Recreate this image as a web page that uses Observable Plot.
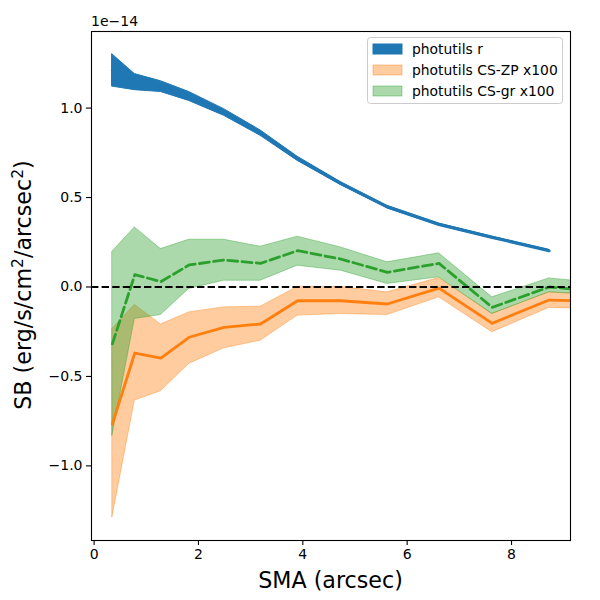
<!DOCTYPE html>
<html><head><meta charset="utf-8">
<script src="https://cdn.jsdelivr.net/npm/d3@7"></script>
<script src="https://cdn.jsdelivr.net/npm/@observablehq/plot@0.6"></script>
<style>body{margin:0;background:#fff}#chart{width:600px;height:600px}</style>
</head><body><div id="chart"></div>
<script>
// values in units of 1e-14 erg/s/cm^2/arcsec^2
const smaR   = [0.35, 0.78, 1.28, 1.82, 2.49, 3.19, 3.90, 4.73, 5.62, 6.61, 7.63, 8.72];
const rLo    = [1.12, 1.10, 1.09, 1.04, 0.957, 0.845, 0.705, 0.570, 0.440, 0.343, 0.272, 0.198];
const rMid   = [1.21, 1.145, 1.12, 1.065, 0.975, 0.860, 0.715, 0.578, 0.447, 0.349, 0.277, 0.203];
const rHi    = [1.30, 1.19, 1.15, 1.09, 0.994, 0.875, 0.728, 0.586, 0.454, 0.355, 0.282, 0.208];

const smaCS  = [0.35, 0.78, 1.28, 1.82, 2.49, 3.19, 3.90, 4.73, 5.62, 6.61, 7.63, 8.72, 9.90];
const zpLo   = [-1.287, -0.635, -0.583, -0.430, -0.343, -0.300, -0.160, -0.151, -0.157, -0.058, -0.253, -0.117, -0.125];
const zpMid  = [-0.766, -0.369, -0.397, -0.281, -0.226, -0.207, -0.077, -0.077, -0.095, -0.006, -0.203, -0.073, -0.082];
const zpHi   = [-0.235, -0.100, -0.210, -0.142, -0.114, -0.110, 0.000, 0.000, -0.030, 0.050, -0.150, -0.030, -0.045];
const grLo   = [-0.831, -0.179, -0.157, -0.011, 0.035, 0.035, 0.119, 0.091, 0.017, 0.054, -0.151, -0.030, -0.050];
const grMid  = [-0.318, 0.069, 0.030, 0.123, 0.151, 0.132, 0.203, 0.156, 0.082, 0.132, -0.114, 0.000, -0.030];
const grHi   = [0.197, 0.333, 0.212, 0.264, 0.264, 0.225, 0.281, 0.221, 0.138, 0.188, -0.058, 0.048, 0.015];

const xTicks = [0, 2, 4, 6, 8];
const yTicks = [-1.0, -0.5, 0.0, 0.5, 1.0];
const legendLabels = ["photutils r", "photutils CS-ZP x100", "photutils CS-gr x100"];
const colors = ["#1f77b4", "#ff7f0e", "#2ca02c"];

const rData = smaR.map((x, i) => ({x, lo: rLo[i], mid: rMid[i], hi: rHi[i]}));
const zpData = smaCS.map((x, i) => ({x, lo: zpLo[i], mid: zpMid[i], hi: zpHi[i]}));
const grData = smaCS.map((x, i) => ({x, lo: grLo[i], mid: grMid[i], hi: grHi[i]}));

const fmt = d3.format(".1f");

const plot = Plot.plot({
  width: 600, height: 600,
  marginLeft: 91, marginRight: 30, marginTop: 31, marginBottom: 60,
  style: {fontFamily: "DejaVu Sans", fontSize: "14px", background: "white", color: "black"},
  x: {domain: [-0.05, 9.13]},
  y: {domain: [-1.417, 1.428]},
  marks: [
    Plot.areaY(rData, {x: "x", y1: "lo", y2: "hi", fill: colors[0], stroke: colors[0], strokeWidth: 1, clip: true}),
    Plot.lineY(rData, {x: "x", y: "mid", stroke: colors[0], strokeWidth: 3, clip: true}),
    Plot.areaY(zpData, {x: "x", y1: "lo", y2: "hi", fill: colors[1], fillOpacity: 0.4, stroke: colors[1], strokeOpacity: 0.4, strokeWidth: 1, clip: true}),
    Plot.areaY(grData, {x: "x", y1: "lo", y2: "hi", fill: colors[2], fillOpacity: 0.4, stroke: colors[2], strokeOpacity: 0.4, strokeWidth: 1, clip: true}),
    Plot.lineY(zpData, {x: "x", y: "mid", stroke: colors[1], strokeWidth: 2.8, clip: true}),
    Plot.lineY(grData, {x: "x", y: "mid", stroke: colors[2], strokeWidth: 2.8, strokeDasharray: "10,4.3", clip: true}),
    Plot.ruleY([0], {stroke: "black", strokeWidth: 2, strokeDasharray: "7.4,3.2"}),
    Plot.frame({stroke: "black", strokeWidth: 1.1}),
    Plot.axisX({ticks: xTicks, tickFormat: d => String(d), tickSize: 5, tickPadding: 4, label: null, fontSize: 14}),
    Plot.axisY({ticks: yTicks, tickFormat: d => fmt(d), tickSize: 5, tickPadding: 4, label: null, fontSize: 14})
  ]
});
document.getElementById("chart").appendChild(plot);

const svg = d3.select(plot);
svg.selectAll("[aria-label='x-axis tick'] path, [aria-label='y-axis tick'] path").attr("stroke-width", 1.1);

// offset text
svg.append("text").attr("x", 91).attr("y", 26).attr("text-anchor", "start").attr("font-size", 14).attr("font-family", "DejaVu Sans").text("1e\u221214");

// x label
svg.append("text").attr("x", 330.5).attr("y", 588).attr("text-anchor", "middle")
  .attr("font-size", 22.2).attr("font-family", "DejaVu Sans").text("SMA (arcsec)");

// y label with superscripts
const yl = svg.append("text").attr("transform", "translate(31,285) rotate(-90)").attr("text-anchor", "middle")
  .attr("font-size", 22.2).attr("font-family", "DejaVu Sans");
yl.append("tspan").text("SB (erg/s/cm");
yl.append("tspan").attr("dy", -8).attr("font-size", 15.5).text("2");
yl.append("tspan").attr("dy", 8).text("/arcsec");
yl.append("tspan").attr("dy", -8).attr("font-size", 15.5).text("2");
yl.append("tspan").attr("dy", 8).text(")");

// legend
const lg = svg.append("g");
lg.append("rect").attr("x", 367.5).attr("y", 37.5).attr("width", 195).attr("height", 66).attr("rx", 3)
  .style("fill", "white").style("fill-opacity", 0.8).style("stroke", "#cccccc").style("stroke-width", 1);
legendLabels.forEach((lab, i) => {
  const cy = 49 + i * 21;
  lg.append("rect").attr("x", 373).attr("y", cy - 5).attr("width", 29).attr("height", 10)
    .style("fill", colors[i]).style("fill-opacity", i === 0 ? 1 : 0.4)
    .style("stroke", colors[i]).style("stroke-opacity", i === 0 ? 1 : 0.4);
  lg.append("text").attr("x", 412).attr("y", cy).attr("dy", "0.35em").attr("text-anchor", "start")
    .attr("font-size", 13.9).attr("font-family", "DejaVu Sans").text(lab);
});
</script></body></html>
